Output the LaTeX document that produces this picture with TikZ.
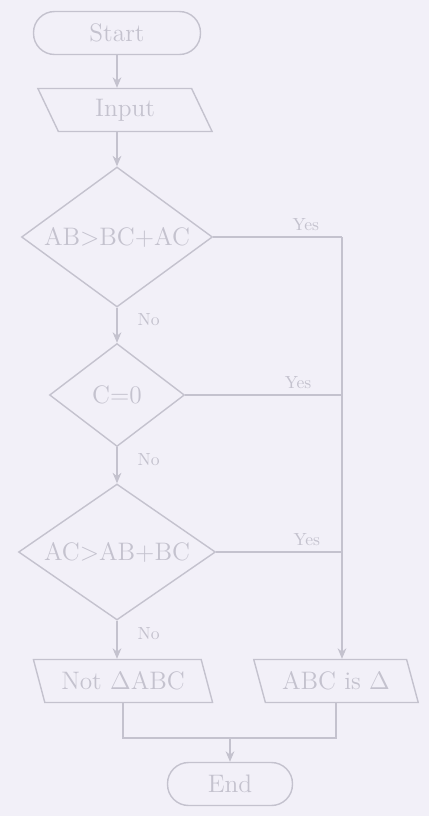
\documentclass[tikz,border=0pt]{standalone}
\usepackage{xcolor}
\usepackage{amsmath}
\usepackage{tikz}
\usetikzlibrary{arrows.meta,positioning,shapes.geometric}
\definecolor{paper}{HTML}{F2F0F8}
\definecolor{ink}{HTML}{C4C2CE}

\begin{document}
\begin{tikzpicture}[x=0.02cm,y=-0.02cm,
  box/.style={draw=ink,line width=0.8pt,text=ink,font=\Large},
  term/.style={box,rounded corners=12pt,minimum height=0.86cm},
  io/.style={box,trapezium,trapezium left angle=108,trapezium right angle=72,
    trapezium stretches=true,minimum height=0.86cm},
  test/.style={box,diamond,aspect=1.4,inner sep=0pt},
  line/.style={draw=ink,line width=0.8pt},
  flow/.style={line,-{Stealth[length=6pt,width=5pt]}},
  lbl/.style={text=ink,font=\normalsize}]
\fill[paper] (0,0) rectangle (429,816);

% boxes
\node[term,minimum width=3.34cm] (start) at (117,33) {Start};
\node[io,minimum width=3.5cm] (input) at (125,110) {Input};
\node[test,minimum width=3.82cm,minimum height=2.8cm] (d1) at (117,237) {AB>BC+AC};
\node[test,minimum width=2.7cm,minimum height=2.06cm] (d2) at (117,395) {C=0};
\node[test,minimum width=3.94cm,minimum height=2.72cm] (d3) at (117,552) {AC>AB+BC};
\node[io,minimum width=3.6cm] (outL) at (123,681) {Not $\Delta$ABC};
\node[io,minimum width=3.3cm] (outR) at (336,681) {ABC is $\Delta$};
\node[term,minimum width=2.5cm] (stop) at (230,784) {End};

\coordinate (j1) at (342,237);
\coordinate (j2) at (342,395);
\coordinate (j3) at (342,552);
\coordinate (mid) at (230,738);

% main line
\draw[flow] (start) -- (start |- input.north);
\draw[flow] (start |- input.south) -- (d1);
\draw[flow] (d1) -- (d2) node[lbl,pos=0.35,right=8pt] {No};
\draw[flow] (d2) -- (d3) node[lbl,pos=0.35,right=8pt] {No};
\draw[flow] (d3) -- (d3 |- outL.north) node[lbl,pos=0.35,right=8pt] {No};

% yes branches
\draw[line] (d1.east) -- (j1) node[lbl,pos=0.72,above] {Yes};
\draw[line] (d2.east) -- (j2) node[lbl,pos=0.72,above] {Yes};
\draw[line] (d3.east) -- (j3) node[lbl,pos=0.72,above] {Yes};
\draw[flow] (j1) -- (j1 |- outR.north);

% join
\draw[line] (outL.south) -- (outL.south |- mid) -- (outR.south |- mid) -- (outR.south);
\draw[flow] (mid) -- (stop);
\end{tikzpicture}
\end{document}
